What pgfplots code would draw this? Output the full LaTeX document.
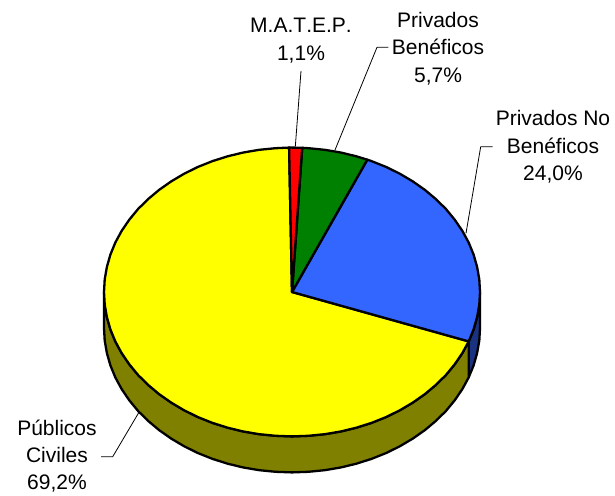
\documentclass[border=0pt]{standalone}
\usepackage{pgfplots}
\pgfplotsset{compat=1.18}
\usepackage{fontspec}
\setmainfont{Liberation Sans}
\definecolor{pyellow}{HTML}{FFFF00}
\definecolor{pyellowd}{HTML}{808000}
\definecolor{pblue}{HTML}{3366FF}
\definecolor{pblued}{HTML}{1A3380}
\definecolor{pgreen}{HTML}{008000}
\definecolor{pred}{HTML}{FF0000}
\tikzset{lbl/.style={font=\fontsize{21}{27.3}\selectfont, align=center, anchor=center, text=black, inner sep=0pt}}
\begin{document}
\begin{tikzpicture}
\begin{axis}[
  hide axis, scale only axis, width=615pt, height=495pt,
  xmin=-292, xmax=323, ymin=-203, ymax=292,
  clip=false,
  every axis plot/.style={line width=2.3pt, draw=black, line join=round, mark=none},
]
% side walls (depth 36)
\addplot[fill=pblued] coordinates {(188,0)(187.3,-12.6)(185.1,-25.1)(181.6,-37.4)(176.7,-49.4)(176.7,-85.4)(181.6,-73.4)(185.1,-61.1)(187.3,-48.6)(188,-36)} -- cycle;
\addplot[fill=pyellowd] coordinates {(176.7,-49.4)(170.4,-61)(162.8,-72.2)(154,-82.9)(144,-92.8)(132.9,-102.1)(120.8,-110.6)(107.8,-118.3)(94,-125.1)(79.5,-130.9)(64.3,-135.7)(48.7,-139.5)(32.6,-142.2)(16.4,-143.8)(0,-144.4)(-16.4,-143.8)(-32.6,-142.2)(-48.7,-139.5)(-64.3,-135.7)(-79.5,-130.9)(-94,-125.1)(-107.8,-118.3)(-120.8,-110.6)(-132.9,-102.1)(-144,-92.8)(-154,-82.9)(-162.8,-72.2)(-170.4,-61)(-176.7,-49.4)(-181.6,-37.4)(-185.1,-25.1)(-187.3,-12.6)(-188,0)
(-188,-36)(-187.3,-48.6)(-185.1,-61.1)(-181.6,-73.4)(-176.7,-85.4)(-170.4,-97)(-162.8,-108.2)(-154,-118.9)(-144,-128.8)(-132.9,-138.1)(-120.8,-146.6)(-107.8,-154.3)(-94,-161.1)(-79.5,-166.9)(-64.3,-171.7)(-48.7,-175.5)(-32.6,-178.2)(-16.4,-179.8)(0,-180.4)(16.4,-179.8)(32.6,-178.2)(48.7,-175.5)(64.3,-171.7)(79.5,-166.9)(94,-161.1)(107.8,-154.3)(120.8,-146.6)(132.9,-138.1)(144,-128.8)(154,-118.9)(162.8,-108.2)(170.4,-97)(176.7,-85.4)} -- cycle;
% top slices: Publicos Civiles 69,2 %
\addplot[fill=pyellow] coordinates {(0,0)(176.7,-49.4)(170.4,-61)(162.8,-72.2)(154,-82.9)(144,-92.8)(132.9,-102.1)(120.8,-110.6)(107.8,-118.3)(94,-125.1)(79.5,-130.9)(64.3,-135.7)(48.7,-139.5)(32.6,-142.2)(16.4,-143.8)(0,-144.4)(-16.4,-143.8)(-32.6,-142.2)(-48.7,-139.5)(-64.3,-135.7)(-79.5,-130.9)(-94,-125.1)(-107.8,-118.3)(-120.8,-110.6)(-132.9,-102.1)(-144,-92.8)(-154,-82.9)(-162.8,-72.2)(-170.4,-61)(-176.7,-49.4)(-181.6,-37.4)(-185.1,-25.1)(-187.3,-12.6)(-188,0)(-187.3,12.6)(-185.1,25.1)(-181.6,37.4)(-176.7,49.4)(-170.4,61)(-162.8,72.2)(-154,82.9)(-144,92.8)(-132.9,102.1)(-120.8,110.6)(-107.8,118.3)(-94,125.1)(-79.5,130.9)(-64.3,135.7)(-48.7,139.5)(-32.6,142.2)(-16.4,143.8)(-2.9,144.4)} -- cycle;
% Privados No Beneficos 24,0 %
\addplot[fill=pblue] coordinates {(0,0)(75.3,132.3)(79.5,130.9)(94,125.1)(107.8,118.3)(120.8,110.6)(132.9,102.1)(144,92.8)(154,82.9)(162.8,72.2)(170.4,61)(176.7,49.4)(181.6,37.4)(185.1,25.1)(187.3,12.6)(188,0)(187.3,-12.6)(185.1,-25.1)(181.6,-37.4)(176.7,-49.4)} -- cycle;
% Privados Beneficos 5,7 %
\addplot[fill=pgreen] coordinates {(0,0)(10.2,144.2)(16.4,143.8)(32.6,142.2)(48.7,139.5)(64.3,135.7)(75.3,132.3)} -- cycle;
% M.A.T.E.P. 1,1 %
\addplot[fill=pred] coordinates {(0,0)(-2.9,144.4)(0,144.4)(10.2,144.2)} -- cycle;
% leader lines
\addplot[line width=0.8pt, draw=black] coordinates {(9,221)(3.3,145.3)};
\addplot[line width=0.8pt, draw=black] coordinates {(96.3,244.7)(85,244.7)(43,142)};
\addplot[line width=0.8pt, draw=black] coordinates {(200.7,145.3)(188.7,145.3)(174,58.7)};
\addplot[line width=0.8pt, draw=black] coordinates {(-191,-164.7)(-179.3,-164.7)(-152.7,-119.7)};
% labels
\node[lbl] at (axis cs:9,251.5) {\addfontfeature{Kerning=Off}M.A.T.E.P.\\1,1\%};
\node[lbl] at (axis cs:146,243.5) {Privados\\Benéficos\\5,7\%};
\node[lbl] at (axis cs:261,145) {Privados No\\Benéficos\\24,0\%};
\node[lbl] at (axis cs:-235,-164.2) {Públicos\\Civiles\\69,2\%};
\end{axis}
\path[use as bounding box] (0,0) rectangle (615pt,495pt);
\end{tikzpicture}
\end{document}
